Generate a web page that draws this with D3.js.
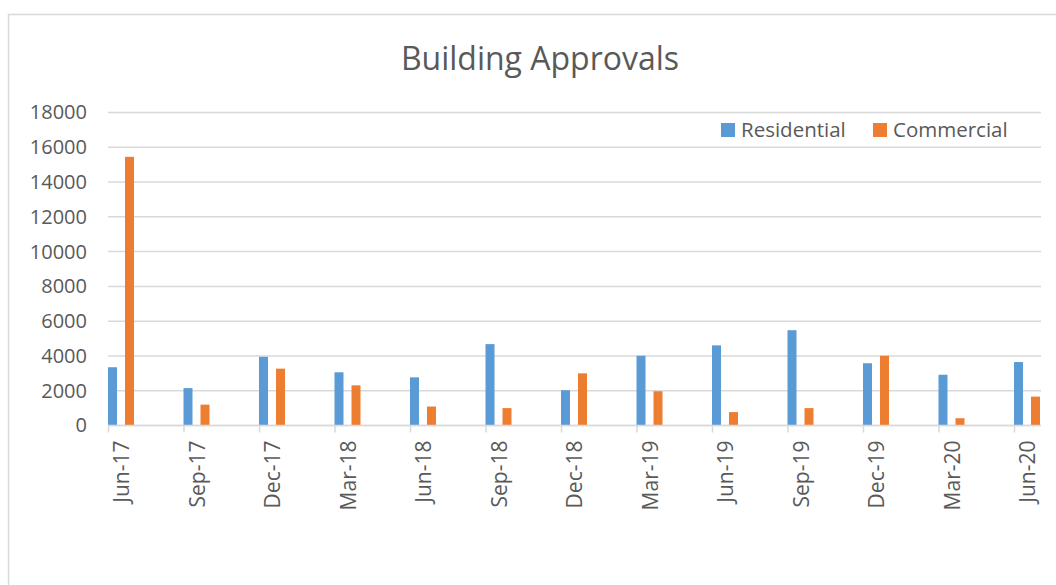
<!DOCTYPE html>
<html>
<head>
<meta charset="utf-8">
<script src="https://cdn.jsdelivr.net/npm/d3@7"></script>
<style>
  body { margin: 0; background: #fff; }
  text { font-family: "Open Sans", "Liberation Sans", sans-serif; fill: #595959; }
</style>
</head>
<body>
<div class="chart"></div>
<script>
    var quarters = ["Jun-17", "Sep-17", "Dec-17", "Mar-18", "Jun-18", "Sep-18", "Dec-18",
                    "Mar-19", "Jun-19", "Sep-19", "Dec-19", "Mar-20", "Jun-20"];
    var residential = [3350, 2150, 3950, 3060, 2770, 4680, 2030, 4010, 4610, 5480, 3580, 2920, 3650];
    var commercial  = [15450, 1200, 3270, 2310, 1090, 1000, 3000, 1970, 770, 1000, 4010, 420, 1660];
    var seriesNames = ["Residential", "Commercial"];
    var yTicks = [0, 2000, 4000, 6000, 8000, 10000, 12000, 14000, 16000, 18000];

    var width = 1056, height = 585;
    var color = d3.scaleOrdinal().domain(seriesNames).range(["#5b9bd5", "#ed7d31"]);

    var svg = d3.select(".chart")
            .append("svg")
            .attr("width", width)
            .attr("height", height);

    // chart border (runs off the right and bottom like the screenshot)
    svg.append("rect")
            .attr("x", 8.5).attr("y", 14.5)
            .attr("width", width + 20).attr("height", height + 20)
            .style("fill", "none")
            .style("stroke", "#d9d9d9")
            .style("stroke-width", 1.5);

    var plotLeft = 108, plotRight = 1041, plotTop = 112.5, plotBottom = 425.5;

    var x = d3.scaleBand()
            .domain(quarters)
            .range([plotLeft, plotLeft + 75.5 * quarters.length]);

    var xSub = d3.scaleBand()
            .domain(seriesNames)
            .range([0, 26])
            .paddingInner(8 / 17);

    var y = d3.scaleLinear()
            .domain([0, 18000])
            .range([plotBottom, plotTop]);

    // gridlines
    svg.append("g")
            .selectAll("line")
            .data(yTicks)
            .enter()
            .append("line")
            .attr("x1", plotLeft).attr("x2", plotRight)
            .attr("y1", function(d) { return y(d); })
            .attr("y2", function(d) { return y(d); })
            .style("stroke", "#d9d9d9")
            .style("stroke-width", 1.5);

    // y axis labels
    var yAxis = svg.append("g")
            .attr("transform", "translate(" + plotLeft + ",0)")
            .call(d3.axisLeft(y).tickValues(yTicks).tickSize(0).tickPadding(21).tickFormat(d3.format("d")));
    yAxis.select(".domain").remove();
    yAxis.selectAll("text")
            .style("font-size", "20px")
            .style("fill", "#595959")
            .style("font-family", "'Open Sans', sans-serif");

    // bars
    var data = quarters.map(function(q, i) {
        return { quarter: q, values: [residential[i], commercial[i]] };
    });

    var groups = svg.append("g")
            .selectAll("g")
            .data(data)
            .enter()
            .append("g")
            .attr("transform", function(d) { return "translate(" + x(d.quarter) + ",0)"; });

    groups.selectAll("rect")
            .data(function(d) {
                return seriesNames.map(function(s, j) { return { key: s, value: d.values[j] }; });
            })
            .enter()
            .append("rect")
            .attr("x", function(d) { return xSub(d.key); })
            .attr("width", xSub.bandwidth())
            .attr("y", function(d) { return y(d.value); })
            .attr("height", function(d) { return plotBottom - y(d.value); })
            .style("fill", function(d) { return color(d.key); });

    // x axis line and ticks
    svg.append("line")
            .attr("x1", plotLeft).attr("x2", plotRight)
            .attr("y1", plotBottom).attr("y2", plotBottom)
            .style("stroke", "#d9d9d9")
            .style("stroke-width", 1.5);

    svg.append("g")
            .selectAll("line")
            .data(quarters)
            .enter()
            .append("line")
            .attr("x1", function(d) { return x(d) + 0.5; })
            .attr("x2", function(d) { return x(d) + 0.5; })
            .attr("y1", plotBottom).attr("y2", plotBottom + 7)
            .style("stroke", "#d9d9d9")
            .style("stroke-width", 1.5);

    svg.append("g")
            .selectAll("text")
            .data(quarters)
            .enter()
            .append("text")
            .attr("transform", function(d) {
                return "translate(" + (x(d) + 14) + "," + (plotBottom + 15) + ") rotate(-90)";
            })
            .attr("dy", "0.35em")
            .style("text-anchor", "end")
            .style("font-size", "21px")
            .text(function(d) { return d; });

    // title
    svg.append("text")
            .attr("x", 540)
            .attr("y", 70)
            .style("text-anchor", "middle")
            .style("font-size", "32px")
            .text("Building Approvals");

    // legend
    var legend = svg.append("g")
            .selectAll("g")
            .data(seriesNames)
            .enter()
            .append("g")
            .attr("transform", function(d, i) { return "translate(" + (721 + i * 152) + ",123)"; });

    legend.append("rect")
            .attr("width", 14).attr("height", 14)
            .style("fill", function(d) { return color(d); });

    legend.append("text")
            .attr("x", 20)
            .attr("y", 7)
            .attr("dy", "0.35em")
            .style("font-size", "20.5px")
            .text(function(d) { return d; });
</script>
</body>
</html>
